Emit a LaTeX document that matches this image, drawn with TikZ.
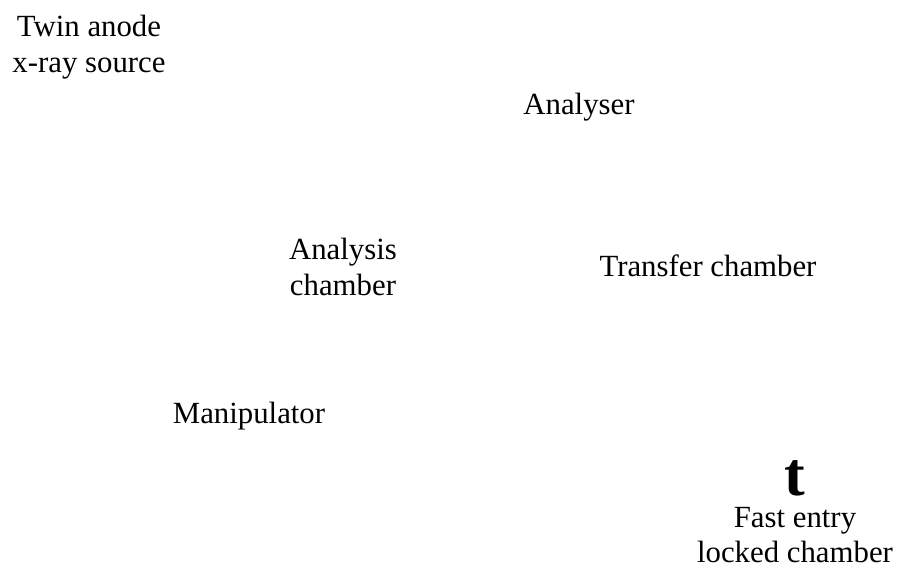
\documentclass[tikz,border=0pt]{standalone}
\usepackage{fontspec}
\setmainfont{Liberation Serif}
\begin{document}
\begin{tikzpicture}[x=1pt,y=-1pt,
  lbl/.style={align=center,inner sep=0pt,font=\fontsize{30.8}{35.5}\selectfont},
  big/.style={inner sep=0pt,font=\fontsize{62}{62}\selectfont\bfseries}]
\useasboundingbox[fill=white] (0,0) rectangle (899,573);
\node[lbl] (src) at (89,47) {Twin anode\\x-ray source};
\node[lbl] (ana) at (579,107) {Analyser};
\node[lbl] (chb) at (343,267) {Analysis\\chamber};
\node[lbl] (trn) at (708,266) {Transfer chamber};
\node[lbl] (man) at (249,416) {Manipulator};
\node[big] (t) at (795,478) {t};
\node[lbl] (fel) at (795,535) {Fast entry\\locked chamber};
\end{tikzpicture}
\end{document}
